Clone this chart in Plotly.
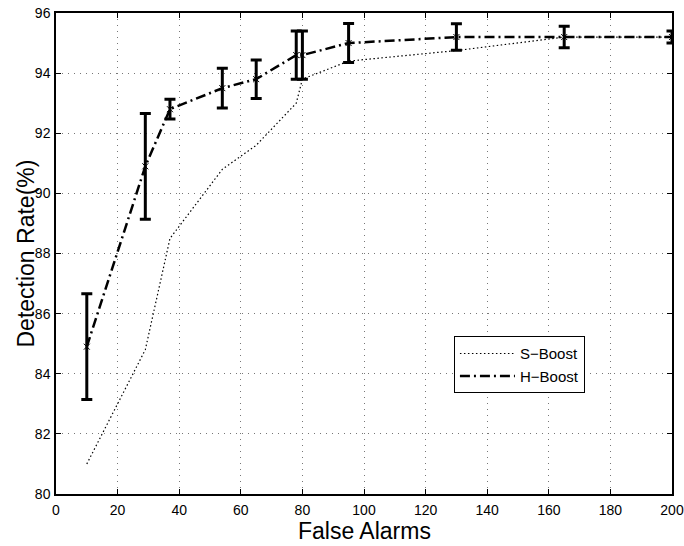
import plotly.graph_objects as go

# H-Boost (with error bars)
h_x = [10, 29, 37, 54, 65, 78, 80, 95, 130, 165, 200]
h_y = [84.9, 90.9, 92.8, 93.5, 93.8, 94.6, 94.6, 95.0, 95.2, 95.2, 95.2]
h_err = [1.76, 1.76, 0.33, 0.66, 0.64, 0.8, 0.8, 0.65, 0.44, 0.36, 0.2]

# S-Boost
s_x = [10, 29, 37, 54, 65, 78, 80, 95, 130, 165, 200]
s_y = [81.0, 84.8, 88.5, 90.8, 91.6, 93.0, 93.8, 94.4, 94.75, 95.2, 95.2]

x_ticks = list(range(0, 201, 20))
y_ticks = list(range(80, 97, 2))

FONT = "Liberation Sans, Arial, sans-serif"

fig = go.Figure()
fig.add_trace(go.Scatter(
    x=s_x, y=s_y, mode="lines", name="S\u2212Boost",
    line=dict(color="black", width=1.2, dash="1.5px,2.5px"),
))
fig.add_trace(go.Scatter(
    x=h_x, y=h_y, mode="lines", name="H\u2212Boost",
    line=dict(color="black", width=2.5, dash="10px,4px,2px,4px"),
))
fig.add_trace(go.Scatter(
    x=h_x, y=h_y, mode="markers", showlegend=False,
    marker=dict(symbol="x-thin", size=6, color="black", line=dict(color="black", width=1)),
    error_y=dict(type="data", array=h_err, visible=True, color="black", thickness=3, width=5.5),
))

axis_common = dict(
    showline=True, linecolor="black", linewidth=1.5, mirror="ticks",
    ticks="inside", ticklen=5, tickcolor="black", tickwidth=1,
    showgrid=True, gridcolor="#777777", gridwidth=1, griddash="1px,5px",
    zeroline=False, automargin=False,
    tickfont=dict(family=FONT, size=14, color="black"),
)

fig.update_xaxes(range=[0, 200], tickvals=x_ticks, ticklabelstandoff=2, **axis_common)
fig.update_yaxes(range=[80, 96], tickvals=y_ticks, ticklabelstandoff=1, **axis_common)

title_font = dict(family=FONT, size=23, color="black")
fig.add_annotation(text="False Alarms", xref="paper", yref="paper", x=0.5, y=0,
                   xanchor="center", yanchor="middle", yshift=-37, showarrow=False,
                   font=title_font)
fig.add_annotation(text="Detection Rate(%)", xref="paper", yref="paper", x=0, y=0.5,
                   xanchor="center", yanchor="middle", xshift=-31, textangle=-90,
                   showarrow=False, font=title_font)

fig.update_layout(
    width=684, height=546,
    margin=dict(l=56, r=12, t=13, b=52),
    paper_bgcolor="white", plot_bgcolor="white",
    font=dict(family=FONT, color="black"),
    legend=dict(x=0.646, y=0.328, xanchor="left", yanchor="top",
                bgcolor="white", bordercolor="black", borderwidth=1,
                font=dict(family=FONT, size=15, color="black"),
                tracegroupgap=0, itemwidth=55, entrywidth=124),
)

fig.write_html("out.html")
